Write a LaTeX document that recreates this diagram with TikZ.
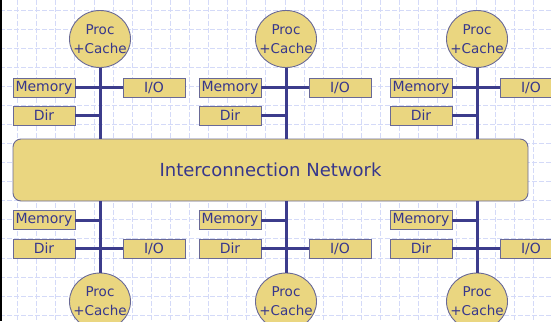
\documentclass[tikz,border=0pt]{standalone}
\usepackage{fontspec}
\setmainfont{DejaVu Sans}
\usetikzlibrary{shapes.geometric}
\definecolor{boxfill}{RGB}{234,214,128}
\definecolor{boxline}{RGB}{105,105,150}
\definecolor{busc}{RGB}{60,60,140}
\definecolor{txt}{RGB}{55,55,140}
\definecolor{gridc}{RGB}{212,218,248}
\begin{document}
\begin{tikzpicture}[x=1pt,y=-1pt,
  unitbox/.style={draw=boxline, line width=0.9pt, fill=boxfill, text=txt,
    font=\fontsize{14}{14}\selectfont, inner sep=0pt, minimum width=62pt, minimum height=19pt},
  pcnode/.style={ellipse, draw=boxline, line width=0.9pt, fill=boxfill, text=txt,
    font=\fontsize{13.5}{19}\selectfont, inner xsep=-6pt, inner ysep=-2pt,
    minimum width=61pt, minimum height=57pt, align=center},
  netnode/.style={draw=boxline, line width=0.9pt, fill=boxfill, text=txt, rounded corners=8pt,
    font=\fontsize{18}{18}\selectfont, minimum width=515pt, minimum height=62pt, inner sep=0pt},
  bus/.style={draw=busc, line width=3pt},
  gridline/.style={draw=gridc, line width=0.8pt, dash pattern=on 5pt off 2pt}]
\useasboundingbox (0,0) rectangle (551,321);
\clip (0,0) rectangle (551,321);
\fill[white] (0,0) rectangle (551,321);
\foreach \k in {0,...,28} \draw[gridline] ({17.5+19.1*\k},0) -- ({17.5+19.1*\k},321);
\foreach \k in {0,...,16} \draw[gridline] (0,{10+19.07*\k}) -- (551,{10+19.07*\k});
\fill[black] (0,0) rectangle (2,321);

\node[netnode] (net) at (270.5,170) {Interconnection Network};

\foreach \i/\x in {1/99,2/285,3/476}{
  % top
  \node[pcnode] (pt\i) at (\x+1,39) {Proc\\+Cache};
  \node[unitbox] (mt\i) at (\x-55,87.5) {Memory};
  \node[unitbox] (it\i) at (\x+55,87.5) {I/O};
  \node[unitbox] (dt\i) at (\x-55,115.5) {Dir};
  \draw[bus] (pt\i.south) -- (pt\i.south |- net.north);
  \draw[bus] (mt\i.east) -- (it\i.west);
  \draw[bus] (dt\i.east) -- (dt\i.east -| pt\i.south);
  % bottom
  \node[pcnode] (pb\i) at (\x+1,301.5) {Proc\\+Cache};
  \node[unitbox] (mb\i) at (\x-55,220) {Memory};
  \node[unitbox] (db\i) at (\x-55,248.5) {Dir};
  \node[unitbox] (ib\i) at (\x+55,248.5) {I/O};
  \draw[bus] (pb\i.north) -- (pb\i.north |- net.south);
  \draw[bus] (mb\i.east) -- (mb\i.east -| pb\i.north);
  \draw[bus] (db\i.east) -- (ib\i.west);
}
\end{tikzpicture}
\end{document}
